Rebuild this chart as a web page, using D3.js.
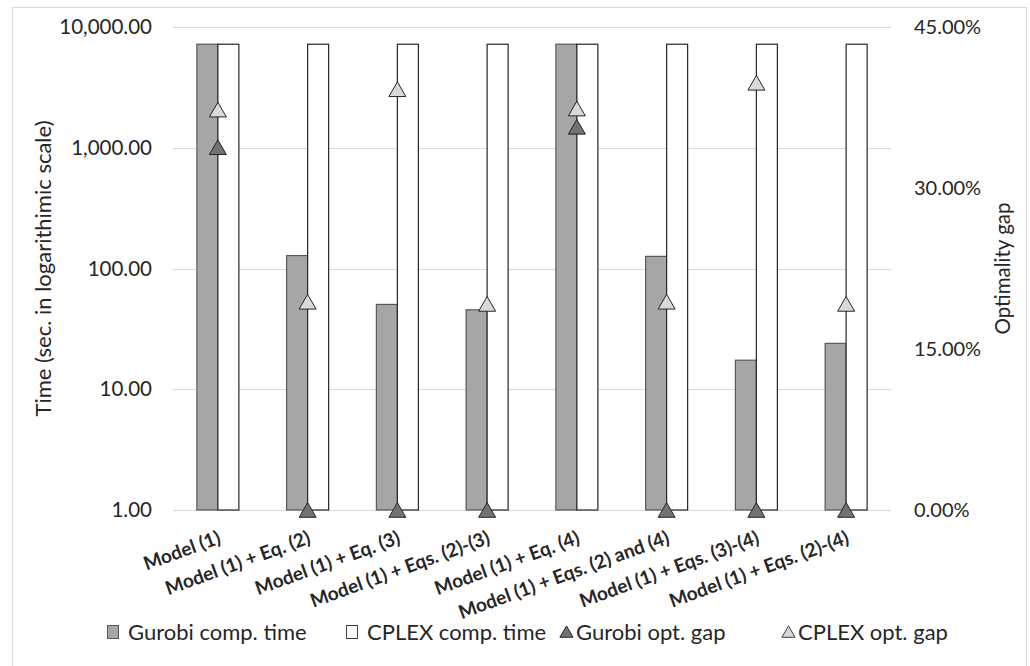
<!DOCTYPE html>
<html>
<head>
<meta charset="utf-8">
<script src="https://cdn.jsdelivr.net/npm/d3@7/dist/d3.min.js"></script>
<style>
  body { margin: 0; background: #fff; }
  text { font-family: Lato, "Noto Sans", sans-serif; fill: #262626; }
</style>
</head>
<body>
<div id="chart"></div>
<script>
var categories = ["Model (1)", "Model (1) + Eq. (2)", "Model (1) + Eq. (3)", "Model (1) + Eqs. (2)-(3)",
    "Model (1) + Eq. (4)", "Model (1) + Eqs. (2) and (4)", "Model (1) + Eqs. (3)-(4)", "Model (1) + Eqs. (2)-(4)"];
var gurobiTime = [7200, 128, 50.4, 45.5, 7200, 126, 17.4, 24.0];
var cplexTime = [7200, 7200, 7200, 7200, 7200, 7200, 7200, 7200];
var gurobiGap = [0.338, 0, 0, 0, 0.357, 0, 0, 0];
var cplexGap = [0.373, 0.194, 0.392, 0.192, 0.374, 0.194, 0.398, 0.192];
var timeTicks = [1, 10, 100, 1000, 10000];
var gapTicks = [0, 0.15, 0.30, 0.45];

var W = 1030, H = 666;
var margin = { top: 27, right: 139, bottom: 156, left: 173 },
    width = W - margin.left - margin.right,
    height = H - margin.top - margin.bottom;

var svg = d3.select("#chart").append("svg")
    .attr("width", W)
    .attr("height", H);

// outer chart border
svg.append("rect")
    .attr("x", 12.5).attr("y", 7.5)
    .attr("width", 1014).attr("height", 700)
    .attr("fill", "none")
    .attr("stroke", "#d9d9d9");

var g = svg.append("g")
    .attr("transform", "translate(" + margin.left + "," + margin.top + ")");

var x = d3.scaleBand()
    .domain(categories)
    .range([0, width])
    .paddingInner(0.532)
    .paddingOuter(0.266);

var xs = d3.scaleBand()
    .domain(["gurobi", "cplex"])
    .range([0, x.bandwidth()]);

var y = d3.scaleLog()
    .domain([1, 10000])
    .range([height, 0]);

var y2 = d3.scaleLinear()
    .domain([0, 0.45])
    .range([height, 0]);

// gridlines
g.append("g")
    .selectAll("line")
    .data(timeTicks)
    .enter().append("line")
    .attr("x1", 0).attr("x2", width)
    .attr("y1", function (d) { return Math.round(y(d)) + 0.5; })
    .attr("y2", function (d) { return Math.round(y(d)) + 0.5; })
    .attr("stroke", "#d9d9d9")
    .attr("stroke-width", 1);

// left axis
var yAxis = d3.axisLeft(y)
    .tickValues(timeTicks)
    .tickFormat(d3.format(",.2f"))
    .tickSize(0)
    .tickPadding(21);

var ya = g.append("g").call(yAxis);
ya.select(".domain").remove();
ya.selectAll("text").style("font-size", "20.5px").attr("fill", "#262626");

// right axis
var y2Axis = d3.axisRight(y2)
    .tickValues(gapTicks)
    .tickFormat(d3.format(".2%"))
    .tickSize(0)
    .tickPadding(23);

var y2a = g.append("g")
    .attr("transform", "translate(" + width + ",0)")
    .call(y2Axis);
y2a.select(".domain").remove();
y2a.selectAll("text").style("font-size", "20px").attr("fill", "#262626");

// bars
var groups = g.selectAll(".cat")
    .data(categories)
    .enter().append("g")
    .attr("transform", function (d) { return "translate(" + x(d) + ",0)"; });

groups.append("rect")
    .attr("x", xs("gurobi"))
    .attr("width", xs.bandwidth())
    .attr("y", function (d, i) { return y(gurobiTime[i]); })
    .attr("height", function (d, i) { return height - y(gurobiTime[i]); })
    .attr("fill", "#a6a6a6")
    .attr("stroke", "#595959")
    .attr("stroke-width", 1.2);

groups.append("rect")
    .attr("x", xs("cplex"))
    .attr("width", xs.bandwidth())
    .attr("y", function (d, i) { return y(cplexTime[i]); })
    .attr("height", function (d, i) { return height - y(cplexTime[i]); })
    .attr("fill", "#ffffff")
    .attr("stroke", "#262626")
    .attr("stroke-width", 1.2);

// triangles
var tri = d3.symbol().type(d3.symbolTriangle).size(125);

function drawGap(values, fill) {
    g.selectAll(null)
        .data(values)
        .enter().append("path")
        .attr("d", tri)
        .attr("transform", function (d, i) {
            return "translate(" + (x(categories[i]) + x.bandwidth() / 2) + "," + (y2(d) + 2.4) + ")";
        })
        .attr("fill", fill)
        .attr("stroke", "#262626")
        .attr("stroke-width", 1);
}
drawGap(gurobiGap, "#767171");
drawGap(cplexGap, "#d9d9d9");

// x labels
g.append("g")
    .selectAll("text")
    .data(categories)
    .enter().append("text")
    .attr("transform", function (d) {
        return "translate(" + (x(d) + x.bandwidth() / 2 + 4) + "," + (height + 33) + ") rotate(-20)";
    })
    .attr("text-anchor", "end")
    .style("font-size", "19px")
    .style("font-weight", "bold")
    .attr("fill", "#262626")
    .text(function (d) { return d; });

// axis titles
svg.append("text")
    .attr("transform", "translate(51," + (margin.top + height / 2) + ") rotate(-90)")
    .attr("text-anchor", "middle")
    .style("font-size", "22px")
    .text("Time (sec. in logarithimic scale)");

svg.append("text")
    .attr("transform", "translate(1010," + (margin.top + height / 2) + ") rotate(-90)")
    .attr("text-anchor", "middle")
    .style("font-size", "20.5px")
    .text("Optimality gap");

// legend
var legendItems = [
    { label: "Gurobi comp. time", kind: "rect", fill: "#a6a6a6", stroke: "#595959", x: 107 },
    { label: "CPLEX comp. time", kind: "rect", fill: "#ffffff", stroke: "#404040", x: 346 },
    { label: "Gurobi opt. gap", kind: "tri", fill: "#767171", stroke: "#262626", x: 560 },
    { label: "CPLEX opt. gap", kind: "tri", fill: "#d9d9d9", stroke: "#404040", x: 782 }
];

var legend = svg.append("g").attr("transform", "translate(0,632)");
var li = legend.selectAll("g")
    .data(legendItems)
    .enter().append("g")
    .attr("transform", function (d) { return "translate(" + d.x + ",0)"; });

li.filter(function (d) { return d.kind === "rect"; })
    .append("rect")
    .attr("x", 0.5).attr("y", -6.5)
    .attr("width", 11).attr("height", 13)
    .attr("fill", function (d) { return d.fill; })
    .attr("stroke", function (d) { return d.stroke; });

li.filter(function (d) { return d.kind === "tri"; })
    .append("path")
    .attr("d", d3.symbol().type(d3.symbolTriangle).size(75))
    .attr("transform", "translate(6.5,1.5)")
    .attr("fill", function (d) { return d.fill; })
    .attr("stroke", function (d) { return d.stroke; });

li.append("text")
    .attr("x", function (d) { return d.kind === "rect" ? 21 : 16; })
    .attr("y", 0)
    .attr("dy", "0.35em")
    .style("font-size", "22px")
    .text(function (d) { return d.label; });
</script>
</body>
</html>
